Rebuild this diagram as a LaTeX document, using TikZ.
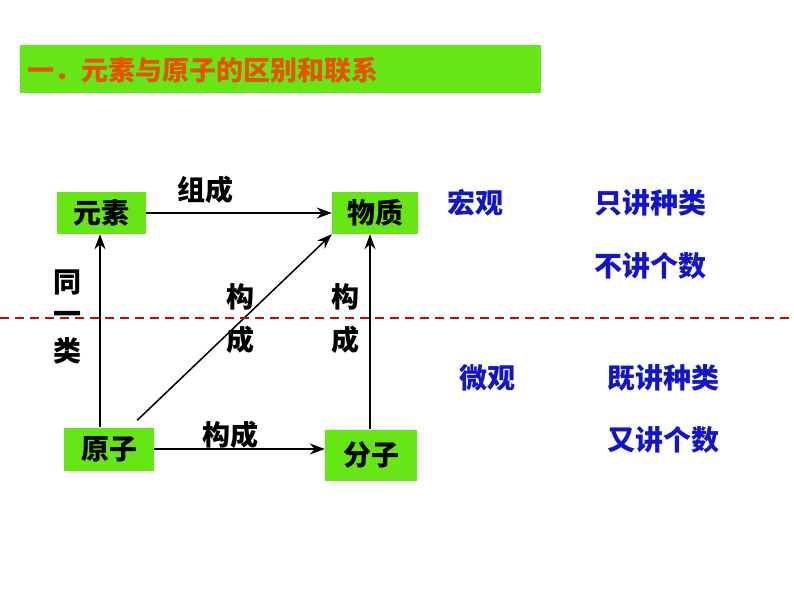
\documentclass[tikz,border=0pt]{standalone}
\usepackage{fontspec}
\setmainfont{Noto Sans CJK SC}
\usetikzlibrary{arrows.meta}
\definecolor{lg}{RGB}{102,230,20}
\definecolor{tor}{RGB}{235,80,0}
\definecolor{bl}{RGB}{20,20,200}
\tikzset{x=1pt,y=-1pt,
 box/.style={fill=lg,inner sep=0pt,font=\fontsize{28}{28}\selectfont\bfseries},
 arr/.style={-{Stealth[length=15pt,width=11pt]},line width=1.5pt},
 lab/.style={font=\fontsize{28}{28}\selectfont\bfseries},
 blt/.style={font=\fontsize{28}{28}\selectfont\bfseries,text=bl}}
\begin{document}
\begin{tikzpicture}
\useasboundingbox (0,0) rectangle (794,596);
\node[fill=lg,minimum width=521pt,minimum height=48pt,anchor=north west] (title) at (20,45) {};
\node[anchor=west,text=tor,font=\fontsize{27}{27}\selectfont\bfseries] (tt) at (24,70) {一．元素与原子的区别和联系};
\node[box,minimum width=89pt,minimum height=42pt] (yuansu) at (101,213) {元素};
\node[box,minimum width=86pt,minimum height=42pt] (wuzhi) at (375,213) {物质};
\node[box,minimum width=90pt,minimum height=43pt] (yuanzi) at (109,449) {原子};
\node[box,minimum width=92pt,minimum height=51pt] (fenzi) at (371,455) {分子};
\draw[arr] (yuansu.east) -- (wuzhi.west);
\draw[arr] (yuanzi.north -| 100,0) -- (yuansu.south -| 100,0);
\draw[arr] (yuanzi.north east) ++(-17,-7) coordinate (d1) -- (wuzhi.south west);
\draw[arr] (fenzi.north -| 370,0) -- (wuzhi.south -| 370,0);
\draw[arr] (yuanzi.east) -- (fenzi.west |- yuanzi.east);
\node[lab] (l1) at (205,190) {组成};
\node[lab] (l2) at (230,435) {构成};
\node[lab] (t1) at (67,283) {同};
\node[lab] (t2) at (67,318) {一};
\node[lab] (t3) at (67,351) {类};
\node[lab] (g1) at (240,297) {构};
\node[lab] (g2) at (240,340) {成};
\node[lab] (g3) at (345,297) {构};
\node[lab] (g4) at (345,340) {成};
\coordinate (dl) at (0,318); \coordinate (dr) at (794,318);
\draw[red!85!black,line width=1.8pt,dash pattern=on 9pt off 6pt] (dl) -- (dr);
\node[blt] (b1) at (475,203) {宏观};
\node[blt] (b2) at (650,203) {只讲种类};
\node[blt] (b3) at (650,266) {不讲个数};
\node[blt] (b4) at (487,378) {微观};
\node[blt] (b5) at (663,378) {既讲种类};
\node[blt] (b6) at (663,440) {又讲个数};
\end{tikzpicture}
\end{document}
